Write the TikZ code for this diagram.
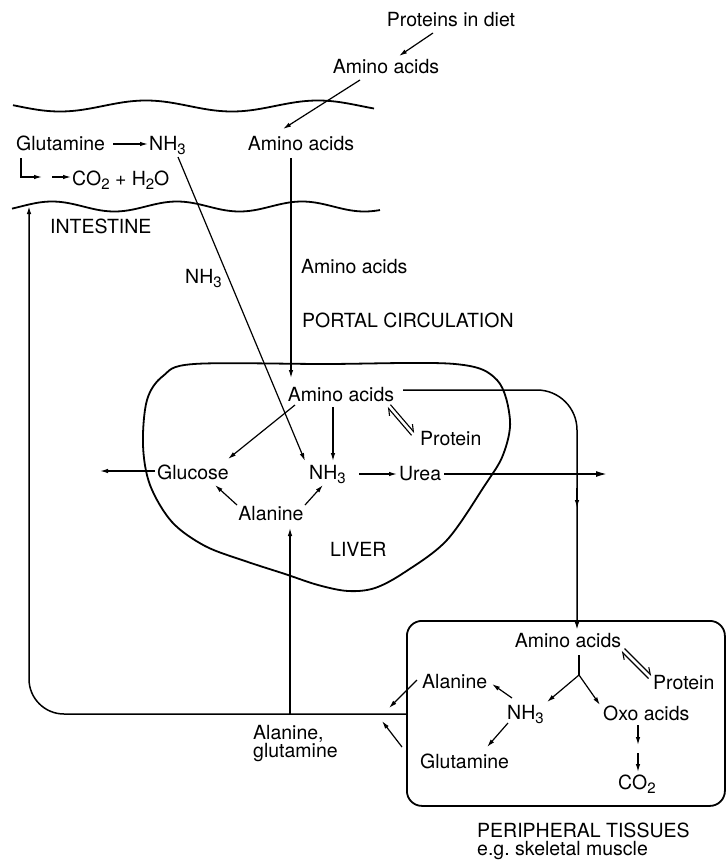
\documentclass[tikz,border=0pt]{standalone}
\usepackage{fontspec}
\setmainfont{TeX Gyre Heros}
\usetikzlibrary{arrows.meta}
% lowered index digit set in the text font
\newcommand\lowidx[1]{\raisebox{-4.5pt}{\fontsize{15}{15}\selectfont #1}}
\begin{document}
\begin{tikzpicture}[x=1pt,y=-1pt,
  lbl/.style={font=\fontsize{19.5}{22}\selectfont, inner sep=0pt},
  arr/.style={line width=1.2pt, -{Latex[length=8pt,width=4.5pt]}},
  bigarr/.style={line width=1.6pt, -{Latex[length=11pt,width=6pt]}},
  conn/.style={line width=1.5pt},
  outline/.style={line width=1.8pt},
  harpR/.style={line width=1.1pt, -{Straight Barb[harpoon,length=6pt,width=8pt]}},
  harpL/.style={line width=1.1pt, -{Straight Barb[harpoon,swap,length=6pt,width=8pt]}}]
\useasboundingbox (0,0) rectangle (726,862);

% ---- intestine wall (two wavy lines)
\draw[outline] plot[domain=13:374, samples=80, smooth] (\x, {106 + 5.5*cos((\x-60)*2.093)});
\draw[outline] plot[domain=12:380, samples=80, smooth] (\x, {206.5 - 5*cos((\x-177)*2.88)});

% ---- labels
\node[lbl, anchor=base] (diet) at (451,27) {Proteins in diet};
\node[lbl, anchor=base] (aaTop) at (386,73) {Amino acids};
\node[lbl, anchor=base west] (glnI) at (16,150) {Glutamine};
\node[lbl, anchor=base west] (nh3I) at (149,150) {NH\lowidx{3}};
\node[lbl, anchor=base] (aaI) at (301,150) {Amino acids};
\node[lbl, anchor=base west] (co2I) at (72,185) {CO\lowidx{2} + H\lowidx{2}O};
\node[lbl, anchor=base west] (intest) at (50,233) {INTESTINE};
\node[lbl, anchor=base west] (nh3P) at (185,283) {NH\lowidx{3}};
\node[lbl, anchor=base west] (aaP) at (301,273) {Amino acids};
\node[lbl, anchor=base west] (portal) at (302,327) {PORTAL CIRCULATION};

\node[lbl, anchor=base] (aaL) at (341,401) {Amino acids};
\node[lbl, anchor=base west] (protL) at (420,445) {Protein};
\node[lbl, anchor=base west] (glc) at (157,479) {Glucose};
\node[lbl, anchor=base west] (nh3L) at (309,479) {NH\lowidx{3}};
\node[lbl, anchor=base west] (urea) at (399,480) {Urea};
\node[lbl, anchor=base] (alaL) at (271,520) {Alanine};
\node[lbl, anchor=base west] (liver) at (330,556) {LIVER};

\node[lbl, anchor=base west] (alaN) at (253,739) {Alanine,};
\node[lbl, anchor=base west] (glnN) at (253,757) {glutamine};

\node[lbl, anchor=base] (aaT) at (568,647) {Amino acids};
\node[lbl, anchor=base west] (protT) at (653,689) {Protein};
\node[lbl, anchor=base west] (alaT) at (422,688) {Alanine};
\node[lbl, anchor=base west] (nh3T) at (507,719) {NH\lowidx{3}};
\node[lbl, anchor=base west] (oxo) at (603,720) {Oxo acids};
\node[lbl, anchor=base west] (glnT) at (420,768) {Glutamine};
\node[lbl, anchor=base west] (co2T) at (618,789) {CO\lowidx{2}};
\node[lbl, anchor=base west] (periph) at (477,837) {PERIPHERAL TISSUES};
\node[lbl, anchor=base west] (eg) at (477,855) {e.g.\ skeletal muscle};

% ---- liver outline
\draw[outline] plot[smooth cycle, tension=0.55] coordinates {
  (194,364) (325,364) (455,364) (497,380) (510,420) (503,455) (485,485)
  (447,540) (405,572) (375,588) (348,591) (318,585) (285,574) (245,561)
  (205,546) (172,522) (150,485) (143,445) (147,400) (163,376)};

% ---- peripheral tissue box
\node[draw, outline, rounded corners=15, minimum width=318, minimum height=185,
      anchor=north west, inner sep=0] (tissue) at (406,620) {};

% ---- connector end points
\coordinate (dietS) at (433,33);   \coordinate (aaTopN) at (399,56);
\coordinate (aaTopS) at (360,80);  \coordinate (aaIN) at (283,129);
\coordinate (glnE) at (113,144);   \coordinate (nh3IW) at (148,144);
\coordinate (elbA) at (21,158);    \coordinate (elbB) at (21,177);
\coordinate (elbC) at (42,177);    \coordinate (co2a) at (52,177);
\coordinate (co2W) at (71,177);
\coordinate (nh3IS) at (178,157);  \coordinate (nh3LNW) at (305,461);
\coordinate (aaIS) at (291,158);   \coordinate (aaLN) at (291,378);
\coordinate (aaLSW) at (295,405);  \coordinate (glcNE) at (228,459);
\coordinate (aaLS) at (333,407);   \coordinate (nh3LN) at (333,461);
\coordinate (nh3LE) at (359,474);  \coordinate (ureaW) at (397,474);
\coordinate (glcW) at (155,471);   \coordinate (glcOut) at (100,471);
\coordinate (alaLNW) at (237,505); \coordinate (glcSE) at (215,485);
\coordinate (alaLNE) at (305,505); \coordinate (nh3LSW) at (323,485);
\coordinate (alaLS) at (290,528);  \coordinate (joinA) at (290,714);
\coordinate (ureaE) at (444,474);  \coordinate (ureaOut) at (607,474);
\coordinate (aaLE) at (403,390);   \coordinate (turnR) at (577,390);
\coordinate (aaTN) at (577,630);   \coordinate (midA) at (577,488);
\coordinate (midB) at (577,508);
\coordinate (boxW) at (406,714);   \coordinate (turnL) at (29,714);
\coordinate (wallB) at (29,206);
\coordinate (alaTW) at (417,680);  \coordinate (alaTout) at (389,708);
\coordinate (boxIn) at (402,747);  \coordinate (boxInTip) at (382,721);
\coordinate (aaTS) at (579,655);   \coordinate (fork) at (579,675);
\coordinate (nh3TNE) at (547,702); \coordinate (oxoNW) at (600,705);
\coordinate (nh3TNW) at (512,698); \coordinate (alaTE) at (492,684);
\coordinate (nh3TSW) at (508,723); \coordinate (glnTNE) at (487,747);
\coordinate (oxoS) at (638,725);   \coordinate (stepA) at (638,745);
\coordinate (stepB) at (638,753);  \coordinate (co2TN) at (638,772);

% ---- intestine
\draw[arr] (dietS) -- (aaTopN);
\draw[arr] (aaTopS) -- (aaIN);
\draw[arr] (glnE) -- (nh3IW);
\draw[arr] (elbA) -- (elbB) -- (elbC);
\draw[arr] (co2a) -- (co2W);
\draw[arr] (nh3IS) -- (nh3LNW);
\draw[arr] (aaIS) -- (aaLN);

% ---- liver
\draw[arr] (aaLSW) -- (glcNE);
\draw[arr] (aaLS) -- (nh3LN);
\draw[arr] (nh3LE) -- (ureaW);
\draw[arr] (glcW) -- (glcOut);
\draw[arr] (alaLNW) -- (glcSE);
\draw[arr] (alaLNE) -- (nh3LSW);
\draw[arr] (joinA) -- (alaLS);
\draw[bigarr] (ureaE) -- (ureaOut);
\draw[harpR] (390.5,404.7) -- (414.5,432.7);
\draw[harpR] (411.5,435.3) -- (387.5,407.3);

% ---- circulation loops
\draw[conn, rounded corners=40, -{Latex[length=8pt,width=4.5pt]}] (aaLE) -- (turnR) -- (aaTN);
\draw[arr] (midA) -- (midB);
\draw[conn, rounded corners=35, -{Latex[length=8pt,width=4.5pt]}] (boxW) -- (turnL) -- (wallB);

% ---- peripheral tissues
\draw[arr] (alaTW) -- (alaTout);
\draw[arr] (boxIn) -- (boxInTip);
\draw[line width=1.2pt] (aaTS) -- (fork);
\draw[arr] (fork) -- (nh3TNE);
\draw[arr] (fork) -- (oxoNW);
\draw[arr] (nh3TNW) -- (alaTE);
\draw[arr] (nh3TSW) -- (glnTNE);
\draw[arr] (oxoS) -- (stepA);
\draw[arr] (stepB) -- (co2TN);
\draw[harpR] (624.5,648.5) -- (651.5,675.5);
\draw[harpR] (648.5,678.5) -- (621.5,651.5);
\end{tikzpicture}
\end{document}
